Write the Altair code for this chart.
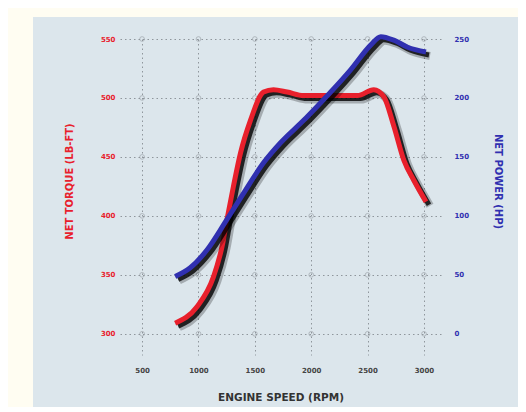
import altair as alt
import pandas as pd

# --- data ---
torque_rpm = [793, 987, 1132, 1209, 1253, 1310, 1372, 1461, 1577, 1665, 1787, 1933, 2173, 2410, 2555, 2644, 2733, 2822, 2911, 3018]
torque_val = [309, 323, 348, 374, 397, 425, 453, 481, 505, 507, 505, 502, 502, 502, 507, 501, 476, 447, 430, 412]

power_rpm = [793, 927, 1075, 1253, 1399, 1577, 1728, 1933, 2084, 2173, 2351, 2529, 2617, 2733, 2855, 3018]
power_val = [48.6, 56, 71, 97, 119, 145, 162, 181, 196, 205, 224, 245, 252, 249, 243, 239]

x_ticks = [500, 1000, 1500, 2000, 2500, 3000]
torque_ticks = [300, 350, 400, 450, 500, 550]
power_ticks = [0, 50, 100, 150, 200, 250]

RED = "#e8202c"
BLUE = "#3030b0"
GRID = "#8f969c"
PANEL = "#dce6ec"
CREAM = "#fffdf2"
FONT = "DejaVu Sans"

tq = pd.DataFrame({"rpm": torque_rpm, "torque": torque_val})
pw = pd.DataFrame({"rpm": power_rpm, "power": power_val})
grid_pts = pd.DataFrame([{"rpm": r, "torque": t} for r in x_ticks for t in torque_ticks])

x_scale = alt.Scale(domain=[304, 3151], nice=False, zero=False)
tq_scale = alt.Scale(domain=[282, 550], nice=False, zero=False)
pw_scale = alt.Scale(domain=[-18, 250], nice=False, zero=False)

x_axis = alt.Axis(values=x_ticks, format="d", title="ENGINE SPEED (RPM)", grid=True, gridColor=GRID,
                  gridDash=[1.5, 3], gridWidth=1, domain=False, ticks=False,
                  labelFontSize=7, labelFontWeight="bold", labelColor="#444", labelPadding=11,
                  titleFontSize=10.5, titleFontWeight="bold", titleColor="#333", titlePadding=19,
                  labelFont=FONT, titleFont=FONT)

tq_axis = alt.Axis(values=torque_ticks, title="NET TORQUE (LB-FT)", orient="left", grid=True,
                   gridColor=GRID, gridDash=[1.5, 3], gridWidth=1, domain=False, ticks=False,
                   labelFontSize=7, labelFontWeight="bold", labelColor=RED, labelPadding=5,
                   titleFontSize=10, titleFontWeight="bold", titleColor=RED, titlePadding=26,
                   titleY=142, labelFont=FONT, titleFont=FONT)

pw_axis = alt.Axis(values=power_ticks, title="NET POWER (HP)", orient="right", grid=False,
                   domain=False, ticks=False,
                   labelFontSize=7, labelFontWeight="bold", labelColor=BLUE, labelPadding=13,
                   titleFontSize=10, titleFontWeight="bold", titleColor=BLUE, titlePadding=24,
                   titleAngle=90, titleY=142, labelFont=FONT, titleFont=FONT)

one = alt.Data(values=[{}])
left_strip = alt.Chart(one).mark_rect(color=CREAM).encode(
    x=alt.value(-115), x2=alt.value(-87), y=alt.value(-35), y2=alt.value(390)
)
top_strip = alt.Chart(one).mark_rect(color=CREAM).encode(
    x=alt.value(-115), x2=alt.value(420), y=alt.value(-35), y2=alt.value(-22)
)

circles = alt.Chart(grid_pts).mark_point(shape="circle", filled=False, size=22,
                                         stroke=GRID, strokeWidth=0.8).encode(
    x=alt.X("rpm:Q", scale=x_scale, axis=x_axis),
    y=alt.Y("torque:Q", scale=tq_scale, axis=tq_axis),
)


def shadow(df, field, scale, axis=None):
    soft = alt.Chart(df).mark_line(color="#000", strokeWidth=8, opacity=0.25,
                                   interpolate="monotone", xOffset=4, yOffset=4)
    hard = alt.Chart(df).mark_line(color="#000", strokeWidth=5, opacity=0.8,
                                   interpolate="monotone", xOffset=3, yOffset=3)
    yenc = alt.Y(f"{field}:Q", scale=scale, axis=axis) if axis is not None else alt.Y(f"{field}:Q", scale=scale)
    enc = dict(x=alt.X("rpm:Q", scale=x_scale), y=yenc)
    return soft.encode(**enc), hard.encode(**enc)


tq_soft, tq_hard = shadow(tq, "torque", tq_scale)
tq_line = alt.Chart(tq).mark_line(color=RED, strokeWidth=5, interpolate="monotone").encode(
    x=alt.X("rpm:Q", scale=x_scale),
    y=alt.Y("torque:Q", scale=tq_scale),
)

pw_soft, pw_hard = shadow(pw, "power", pw_scale, pw_axis)
pw_line = alt.Chart(pw).mark_line(color=BLUE, strokeWidth=5, interpolate="monotone").encode(
    x=alt.X("rpm:Q", scale=x_scale),
    y=alt.Y("power:Q", scale=pw_scale),
)

left = alt.layer(left_strip, top_strip, circles, tq_soft, tq_hard, tq_line)
right = alt.layer(pw_soft, pw_hard, pw_line)

chart = alt.layer(left, right).resolve_scale(y="independent").properties(
    width=321, height=316,
    autosize=alt.AutoSizeParams(type="none"),
    padding={"left": 112, "top": 31, "right": 77, "bottom": 52},
    background=PANEL,
).configure_view(stroke=None)

chart.save("out.html", embed_options={"renderer": "svg", "actions": False})
